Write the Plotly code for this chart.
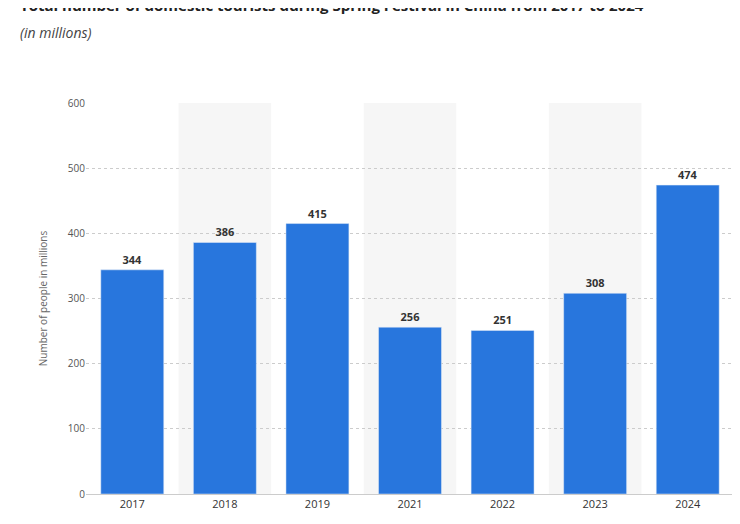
import plotly.graph_objects as go

years = ["2017", "2018", "2019", "2021", "2022", "2023", "2024"]
tourists = [344, 386, 415, 256, 251, 308, 474]

fig = go.Figure()
fig.add_trace(go.Bar(
    x=years, y=tourists, marker_color="#2876dd", width=0.68,
    text=tourists, textposition="outside",
    textfont=dict(family="Open Sans", size=11, color="#333333"),
    texttemplate="<b>%{text}</b>", cliponaxis=False,
))

# faint alternating column bands
for i in range(1, len(years), 2):
    fig.add_shape(type="rect", xref="x", yref="paper", x0=i - 0.5, x1=i + 0.5,
                  y0=0, y1=1, fillcolor="#f6f6f6", line_width=0, layer="below")

fig.update_layout(
    width=740, height=524,
    margin=dict(l=78, r=14, t=95, b=38),
    plot_bgcolor="white", paper_bgcolor="white",
    showlegend=False,
    font=dict(family="Open Sans", color="#333333"),
    annotations=[
        dict(text="<b>Total number of domestic tourists during Spring Festival in China from 2017 to 2024</b>",
             xref="paper", yref="paper", x=-0.105, y=1.25, xanchor="left", yanchor="middle",
             showarrow=False, font=dict(size=15, color="#222222")),
        dict(text="<i>(in millions)</i>", xref="paper", yref="paper", x=-0.105, y=1.18,
             xanchor="left", yanchor="middle", showarrow=False, font=dict(size=14, color="#444444")),
    ],
)
fig.update_xaxes(showgrid=False, ticks="", tickfont=dict(size=11, color="#333333"),
                 showline=True, linecolor="#cccccc")
fig.update_yaxes(range=[0, 600], dtick=100, gridcolor="#cccccc", griddash="dot",
                 zeroline=False, tickfont=dict(size=10, color="#555555"),
                 title=dict(text="Number of people in millions", font=dict(size=10, color="#666666"),
                            standoff=18))

fig.write_html("out.html")
